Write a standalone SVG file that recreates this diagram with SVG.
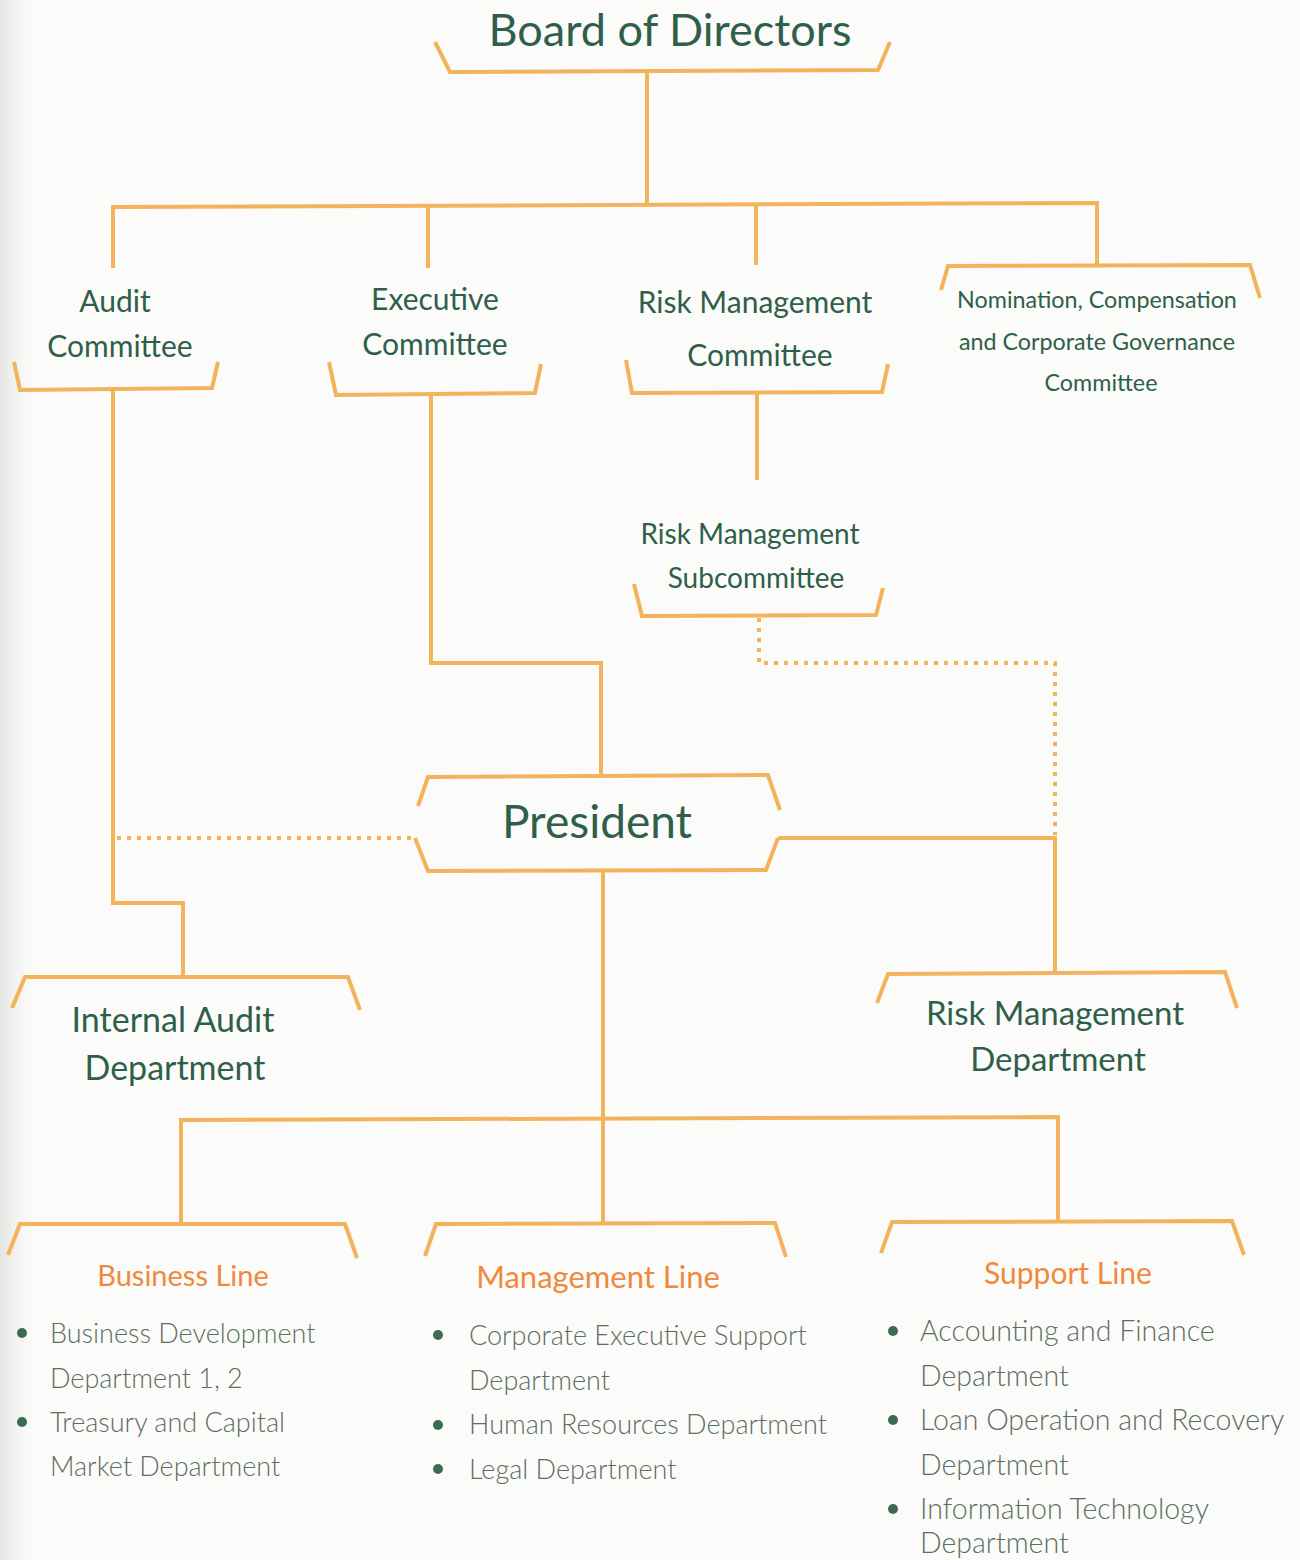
<svg xmlns="http://www.w3.org/2000/svg" width="1300" height="1560" viewBox="0 0 1300 1560">
<defs>
<linearGradient id="edge" x1="0" y1="0" x2="1" y2="0">
<stop offset="0" stop-color="#e4e4e2"/>
<stop offset="1" stop-color="#fbfbf9" stop-opacity="0"/>
</linearGradient>
</defs>
<style>
.ln{fill:none;stroke:#f3b35c;stroke-width:4;stroke-linejoin:miter;stroke-linecap:butt}
.dot{fill:none;stroke:#f3b35c;stroke-width:4;stroke-dasharray:4 6}
.t{font-family:Lato,"Open Sans","Liberation Sans",sans-serif;fill:#2f5f4a;text-anchor:middle}
.h{font-family:Lato,"Open Sans","Liberation Sans",sans-serif;fill:#f0893d;text-anchor:middle}
.li{font-family:Lato,"Open Sans","Liberation Sans",sans-serif;fill:#5b6e62;font-size:27px;font-weight:300}
.li.s{font-size:28.5px}
.b{fill:#3c6a52}
</style>
<rect width="1300" height="1560" fill="#fbfbf9"/>
<rect width="40" height="1560" fill="url(#edge)"/>

<g id="connectors">
<path class="ln" d="M647 72V205"/>
<path class="ln" d="M113 268V207L1097 203V265"/>
<path class="ln" d="M428 206V268"/>
<path class="ln" d="M756 205V265"/>
<path class="ln" d="M113 390V903H183V977"/>
<path class="ln" d="M431 395V663H601V777"/>
<path class="ln" d="M757 393V480"/>
<path class="dot" d="M759 618V663H1055V835"/>
<path class="dot" d="M117 838H415"/>
<path class="ln" d="M778 838H1055V974"/>
<path class="ln" d="M603 871V1224"/>
<path class="ln" d="M181 1224V1120L1058 1117V1222"/>
</g>

<g id="board">
<path class="ln" d="M435 42L450 72L878 70L890 42"/>
<text class="t" x="670" y="46" font-size="45">Board of Directors</text>
</g>

<g id="audit-committee">
<path class="ln" d="M14 362L20 390L212 388L218 362"/>
<text class="t" x="115" y="312" font-size="30">Audit</text>
<text class="t" x="120" y="357" font-size="30">Committee</text>
</g>

<g id="executive-committee">
<path class="ln" d="M329 362L336 395L535 393L541 364"/>
<text class="t" x="435" y="310" font-size="30">Executive</text>
<text class="t" x="435" y="355" font-size="30">Committee</text>
</g>

<g id="risk-committee">
<path class="ln" d="M626 360L632 393L882 392L888 364"/>
<text class="t" x="755" y="313" font-size="30">Risk Management</text>
<text class="t" x="760" y="366" font-size="30">Committee</text>
</g>

<g id="nomination-committee">
<path class="ln" d="M941 290L948 266L1250 265L1260 298"/>
<text class="t" x="1097" y="308" font-size="23.3">Nomination, Compensation</text>
<text class="t" x="1097" y="350" font-size="23.3">and Corporate Governance</text>
<text class="t" x="1101" y="391" font-size="23.3">Committee</text>
</g>

<g id="risk-subcommittee">
<path class="ln" d="M634 584L642 616L876 615L883 588"/>
<text class="t" x="750" y="544" font-size="28">Risk Management</text>
<text class="t" x="756" y="588" font-size="28">Subcommittee</text>
</g>

<g id="president">
<path class="ln" d="M418 806L428 777L768 775L780 810"/>
<path class="ln" d="M415 838L428 871L766 870L778 838"/>
<text class="t" x="597" y="838" font-size="46">President</text>
</g>

<g id="internal-audit">
<path class="ln" d="M12 1008L25 977L348 977L360 1010"/>
<text class="t" x="173" y="1032" font-size="34">Internal Audit</text>
<text class="t" x="175" y="1080" font-size="34">Department</text>
</g>

<g id="risk-department">
<path class="ln" d="M877 1003L888 974L1225 972L1237 1008"/>
<text class="t" x="1055" y="1025" font-size="33">Risk Management</text>
<text class="t" x="1058" y="1071" font-size="33">Department</text>
</g>

<g id="business-line">
<path class="ln" d="M8 1255L20 1224L345 1224L357 1258"/>
<text class="h" x="183" y="1286" font-size="29">Business Line</text>
<circle class="b" cx="22" cy="1333" r="5"/>
<text class="li" x="50" y="1343">Business Development</text>
<text class="li" x="50" y="1388">Department 1, 2</text>
<circle class="b" cx="22" cy="1422" r="5"/>
<text class="li" x="50" y="1432">Treasury and Capital</text>
<text class="li" x="50" y="1476">Market Department</text>
</g>

<g id="management-line">
<path class="ln" d="M425 1256L436 1224L775 1223L786 1257"/>
<text class="h" x="598" y="1288" font-size="31">Management Line</text>
<circle class="b" cx="438" cy="1335" r="5"/>
<text class="li" x="469" y="1345">Corporate Executive Support</text>
<text class="li" x="469" y="1390">Department</text>
<circle class="b" cx="438" cy="1425" r="5"/>
<text class="li" x="469" y="1434">Human Resources Department</text>
<circle class="b" cx="438" cy="1469" r="5"/>
<text class="li" x="469" y="1479">Legal Department</text>
</g>

<g id="support-line">
<path class="ln" d="M881 1253L892 1222L1232 1221L1244 1255"/>
<text class="h" x="1068" y="1284" font-size="30">Support Line</text>
<circle class="b" cx="893" cy="1331" r="5"/>
<text class="li s" x="920" y="1341">Accounting and Finance</text>
<text class="li s" x="920" y="1386">Department</text>
<circle class="b" cx="893" cy="1420" r="5"/>
<text class="li s" x="920" y="1430">Loan Operation and Recovery</text>
<text class="li s" x="920" y="1475">Department</text>
<circle class="b" cx="893" cy="1509" r="5"/>
<text class="li s" x="920" y="1519">Information Technology</text>
<text class="li s" x="920" y="1553">Department</text>
</g>
</svg>
